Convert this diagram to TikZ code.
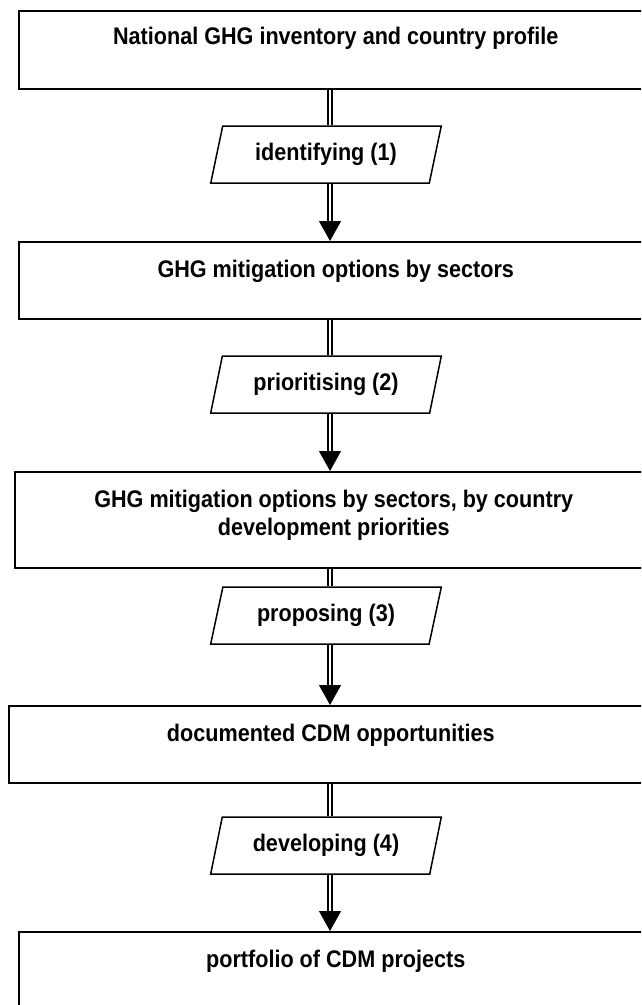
\documentclass[tikz,border=0pt]{standalone}
\usepackage{fontspec}
\setmainfont{Liberation Sans}[FakeStretch=0.9]
\usetikzlibrary{positioning,shapes.geometric,arrows.meta}

\begin{document}
\begin{tikzpicture}[x=1pt,y=-1pt]
    \tikzstyle{box}=[draw, line width=1.5pt, anchor=north west, minimum height=77pt]
    \tikzstyle{lbl}=[inner sep=0pt, align=center, font=\bfseries\fontsize{24}{28}\selectfont]
    \tikzstyle{action}=[draw, line width=1.5pt, trapezium, trapezium left angle=70, trapezium right angle=110, trapezium stretches=true, minimum width=231pt, minimum height=57pt, inner sep=0pt, font=\bfseries\fontsize{24}{28}\selectfont]
    \tikzstyle{flow}=[double, double distance=2.4pt, line width=1.6pt]
    \tikzstyle{tip}=[line width=1pt, -{Triangle[width=22pt,length=20pt]}]
    \clip (0,0) rectangle (641,1005);

    \node (B1) [box, minimum width=634pt, minimum height=78pt] at (18,10) {};
    \node (T1) [lbl, below=17pt of B1.north] {National GHG inventory and country profile};
    \node (P1) [action] at (326,154.5) {identifying (1)};

    \node (B2) [box, minimum width=634pt] at (18,241) {};
    \node (T2) [lbl, below=19pt of B2.north] {GHG mitigation options by sectors};
    \node (P2) [action] at (326,384.5) {prioritising (2)};

    \node (B3) [box, minimum width=638pt, minimum height=96pt] at (14,471) {};
    \node (T3) [lbl, below=19pt of B3.north] {GHG mitigation options by sectors, by country\\development priorities};
    \node (P3) [action] at (326,615.5) {proposing (3)};

    \node (B4) [box, minimum width=644pt] at (8,705) {};
    \node (T4) [lbl, below=19pt of B4.north] {documented CDM opportunities};
    \node (P4) [action] at (326,845.5) {developing (4)};

    \node (B5) [box, minimum width=634pt, minimum height=78pt] at (18,931) {};
    \node (T5) [lbl, below=19pt of B5.north] {portfolio of CDM projects};

    \draw [flow] ([xshift=4pt]P1.north |- B1.south) -- ([xshift=4pt]P1.north);
    \draw [tip] ([xshift=4pt]P1.south) -- ([xshift=4pt]P1.south |- B2.north);
    \draw [flow, shorten >=20pt] ([xshift=4pt]P1.south) -- ([xshift=4pt]P1.south |- B2.north);

    \draw [flow] ([xshift=4pt]P2.north |- B2.south) -- ([xshift=4pt]P2.north);
    \draw [tip] ([xshift=4pt]P2.south) -- ([xshift=4pt]P2.south |- B3.north);
    \draw [flow, shorten >=20pt] ([xshift=4pt]P2.south) -- ([xshift=4pt]P2.south |- B3.north);

    \draw [flow] ([xshift=4pt]P3.north |- B3.south) -- ([xshift=4pt]P3.north);
    \draw [tip] ([xshift=4pt]P3.south) -- ([xshift=4pt]P3.south |- B4.north);
    \draw [flow, shorten >=20pt] ([xshift=4pt]P3.south) -- ([xshift=4pt]P3.south |- B4.north);

    \draw [flow] ([xshift=4pt]P4.north |- B4.south) -- ([xshift=4pt]P4.north);
    \draw [tip] ([xshift=4pt]P4.south) -- ([xshift=4pt]P4.south |- B5.north);
    \draw [flow, shorten >=20pt] ([xshift=4pt]P4.south) -- ([xshift=4pt]P4.south |- B5.north);

\end{tikzpicture}
\end{document}
